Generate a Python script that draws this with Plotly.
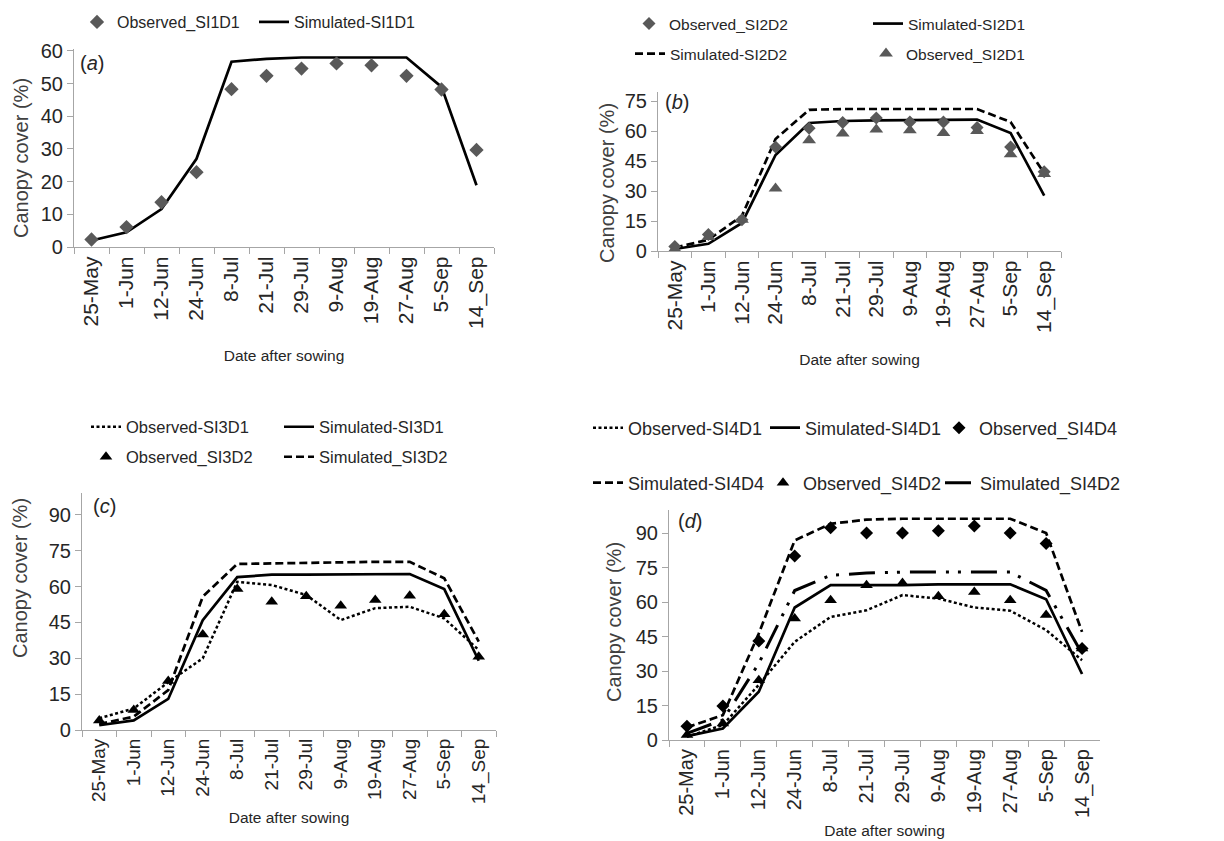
import plotly.graph_objects as go

# Page body has an 8px default margin; the figure is sized to fit the window.
OFF = 8
W, H = 1224 - OFF, 841 - OFF

dates = ["25-May", "1-Jun", "12-Jun", "24-Jun", "8-Jul", "21-Jul", "29-Jul",
         "9-Aug", "19-Aug", "27-Aug", "5-Sep", "14_Sep"]

# Panel (a)
obs_si1d1 = [2.3, 6.1, 13.7, 22.9, 48.3, 52.4, 54.6, 56.2, 55.6, 52.4, 48.2, 29.7]
sim_si1d1 = [2.0, 4.5, 11.6, 27.0, 56.7, 57.6, 58.0, 58.0, 58.0, 58.0, 49.0, 18.9]

# Panel (b)
obs_si2d2 = [2.3, 8.3, 15.6, 52.0, 61.4, 64.2, 66.5, 64.5, 64.5, 61.8, 52.0, 39.6]
sim_si2d1 = [1.0, 3.6, 14.0, 48.0, 64.0, 65.0, 65.3, 65.5, 65.7, 65.7, 59.0, 27.7]
sim_si2d2 = [1.7, 5.6, 17.6, 56.0, 70.6, 71.0, 71.0, 71.0, 71.0, 71.0, 64.5, 38.8]
obs_si2d1 = [1.0, 7.0, 15.6, 31.3, 55.4, 58.7, 60.7, 60.4, 59.0, 60.0, 48.4, 38.5]

# Panel (c)
obs_si3d1 = [4.9, 9.0, 20.0, 30.0, 62.0, 60.7, 56.5, 46.0, 51.0, 51.6, 46.7, 33.5]
sim_si3d1 = [2.0, 4.0, 13.0, 46.0, 64.0, 65.0, 65.0, 65.0, 65.3, 65.3, 59.0, 29.0]
obs_si3d2 = [4.0, 8.4, 20.5, 40.0, 59.0, 53.7, 56.0, 52.0, 54.4, 56.2, 48.5, 30.7]
sim_si3d2 = [2.5, 5.6, 16.7, 55.8, 69.5, 69.7, 70.2, 70.4, 70.4, 70.4, 63.5, 37.0]

# Panel (d)
obs_si4d1 = [1.4, 6.5, 24.0, 42.7, 53.5, 56.4, 63.0, 61.5, 57.6, 56.2, 47.8, 34.7]
sim_si4d1 = [1.7, 5.0, 21.0, 57.6, 67.3, 67.3, 67.3, 67.7, 67.7, 67.7, 61.2, 28.7]
obs_si4d4 = [6.0, 14.8, 43.0, 80.0, 92.3, 90.0, 90.0, 91.0, 93.0, 90.0, 85.4, 39.8]
sim_si4d4 = [5.5, 10.8, 46.3, 86.8, 94.0, 95.8, 96.2, 96.2, 96.2, 96.2, 90.0, 47.0]
obs_si4d2 = [2.2, 7.2, 26.0, 52.8, 60.8, 67.3, 68.3, 62.5, 64.4, 60.8, 54.3, 39.8]
sim_si4d2 = [2.9, 8.7, 33.3, 65.0, 71.6, 72.6, 73.0, 73.0, 73.0, 73.0, 65.0, 37.6]

REG = "Liberation Sans, Arial, sans-serif"
TXT = "#262626"
AX = "#a6a6a6"
GRAY = "#595959"

fig = go.Figure()


def px_x(p):
    return (p - OFF) / W


def px_y(p):
    return 1 - (p - OFF) / H


legends = {}
leg_count = [0]


def add_legend(xpx, ypx, size):
    leg_count[0] += 1
    n = leg_count[0]
    key = "legend" if n == 1 else f"legend{n}"
    legends[key] = dict(
        x=px_x(xpx), y=px_y(ypx), xanchor="left", yanchor="middle",
        orientation="h", bgcolor="rgba(0,0,0,0)", borderwidth=0,
        font=dict(family=REG, size=size, color=TXT),
        itemwidth=30, tracegroupgap=0,
    )
    return key


def line_trace(y, name, xa, ya, dash, width, leg):
    fig.add_trace(go.Scatter(
        x=dates, y=y, name=name, mode="lines", xaxis=xa, yaxis=ya,
        line=dict(color="black", width=width, dash=dash),
        legend=leg, showlegend=True, hoverinfo="skip"))


def marker_trace(y, name, xa, ya, symbol, size, color, leg):
    fig.add_trace(go.Scatter(
        x=dates, y=y, name=name, mode="markers", xaxis=xa, yaxis=ya,
        marker=dict(symbol=symbol, size=size, color=color, line=dict(width=0)),
        legend=leg, showlegend=True, hoverinfo="skip"))


DASH = "8px,4px"
DOT = "3px,2.5px"
DASHDOT = "26px,10px,3px,9px,3px,10px"
LW = 2.7

# ---- Panel a
line_trace(sim_si1d1, "Simulated-SI1D1", "x", "y", "solid", LW, add_legend(254, 22, 16))
marker_trace(obs_si1d1, "Observed_SI1D1", "x", "y", "diamond", 11, GRAY, add_legend(77, 22, 16))

# ---- Panel b
line_trace(sim_si2d2, "Simulated-SI2D2", "x2", "y2", DASH, LW, add_legend(630, 54, 15.5))
line_trace(sim_si2d1, "Simulated-SI2D1", "x2", "y2", "solid", LW, add_legend(868, 24, 15.5))
marker_trace(obs_si2d2, "Observed_SI2D2", "x2", "y2", "diamond", 10, GRAY, add_legend(629, 24, 15.5))
marker_trace(obs_si2d1, "Observed_SI2D1", "x2", "y2", "triangle-up", 12, GRAY, add_legend(866, 54, 15.5))

# ---- Panel c
line_trace(sim_si3d2, "Simulated_SI3D2", "x3", "y3", DASH, LW, add_legend(279, 457, 16.5))
line_trace(sim_si3d1, "Simulated-SI3D1", "x3", "y3", "solid", LW, add_legend(279, 427, 16.5))
line_trace(obs_si3d1, "Observed-SI3D1", "x3", "y3", DOT, 2.5, add_legend(86, 427, 16.5))
marker_trace(obs_si3d2, "Observed_SI3D2", "x3", "y3", "triangle-up", 11, "black", add_legend(86, 457, 16.5))

# ---- Panel d
line_trace(sim_si4d4, "Simulated-SI4D4", "x4", "y4", DASH, LW, add_legend(588, 483, 18))
line_trace(sim_si4d2, "Simulated_SI4D2", "x4", "y4", DASHDOT, 3, add_legend(940, 483, 18))
line_trace(sim_si4d1, "Simulated-SI4D1", "x4", "y4", "solid", LW, add_legend(765, 428, 18))
line_trace(obs_si4d1, "Observed-SI4D1", "x4", "y4", DOT, 2.5, add_legend(588, 428, 18))
marker_trace(obs_si4d4, "Observed_SI4D4", "x4", "y4", "diamond", 10, "black", add_legend(939, 428, 18))
marker_trace(obs_si4d2, "Observed_SI4D2", "x4", "y4", "triangle-up", 11, "black", add_legend(763, 483, 18))


def xaxis(x0, x1, anchor, standoff, tsize):
    return dict(
        domain=[px_x(x0), px_x(x1)], anchor=anchor, type="category",
        range=[-0.5, 11.5], tickson="boundaries", ticks="outside", ticklen=6,
        tickcolor=AX, linecolor=AX, linewidth=1.2, showline=True, showgrid=False,
        zeroline=False, tickangle=-90, automargin=False,
        tickfont=dict(family=REG, size=tsize, color=TXT),
        title=dict(text="Date after sowing", standoff=standoff,
                   font=dict(family=REG, size=15.5, color=TXT)),
    )


def yaxis(top_px, bot_px, rng, dtick, anchor):
    return dict(
        domain=[px_y(bot_px), px_y(top_px)], anchor=anchor, range=rng,
        dtick=dtick, tick0=0, ticks="outside", ticklen=6, tickcolor=AX,
        linecolor=AX, linewidth=1.2, showline=True, showgrid=False,
        zeroline=False, automargin=False,
        tickfont=dict(family=REG, size=20, color=TXT),
    )


fig.update_layout(
    width=W, height=H, margin=dict(l=0, r=0, t=0, b=0, autoexpand=False),
    paper_bgcolor="white", plot_bgcolor="white",
    xaxis=xaxis(74, 494, "y", 22, 21),
    yaxis=yaxis(49, 247, [0, 60.6], 10, "x"),
    xaxis2=xaxis(658, 1061, "y2", 22, 21),
    yaxis2=yaxis(92, 251, [0, 79.5], 15, "x2"),
    xaxis3=xaxis(82, 496, "y3", 8, 19),
    yaxis3=yaxis(493, 730, [0, 99.2], 15, "x3"),
    xaxis4=xaxis(669, 1100, "y4", 8, 20),
    yaxis4=yaxis(510, 740, [0, 100], 15, "x4"),
    **legends,
)

# Y-axis titles
for xp, yp in [(21, 158), (607, 183), (20, 578), (614, 622)]:
    fig.add_annotation(text="Canopy cover (%)", x=px_x(xp), y=px_y(yp),
                       xref="paper", yref="paper", xanchor="center", yanchor="middle",
                       textangle=-90, showarrow=False,
                       font=dict(family=REG, size=20, color="#404040"))

# Panel labels
for lbl, xp, yp in [("a", 78, 63), ("b", 663, 102), ("c", 91, 506), ("d", 676, 521)]:
    fig.add_annotation(text=f"(<i>{lbl}</i>)", x=px_x(xp), y=px_y(yp),
                       xref="paper", yref="paper", xanchor="left", yanchor="middle",
                       showarrow=False, font=dict(family=REG, size=20, color=TXT))

fig.write_html("out.html")
